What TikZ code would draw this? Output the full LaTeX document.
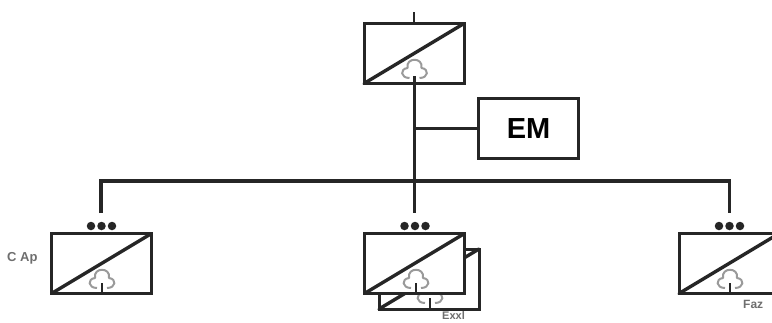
\documentclass[tikz,border=0pt]{standalone}
\usepackage{fontspec}
\setmainfont{Liberation Sans}
\definecolor{ink}{HTML}{262626}
\definecolor{cloudc}{HTML}{9A9A9A}
\definecolor{labelc}{HTML}{6E6E6E}
\tikzset{
  x=1pt,y=-1pt,
  conv/.style={draw=ink,line width=3pt,fill=white,rectangle,minimum width=100pt,minimum height=60pt,inner sep=0pt,outer sep=0pt},
  emb/.style={draw=ink,line width=2.6pt,fill=white,rectangle,minimum width=100pt,minimum height=60pt,inner sep=0pt,font=\fontsize{29}{29}\selectfont\bfseries},
  diag/.style={draw=ink,line width=3.4pt,line cap=round},
  bus/.style={draw=ink,line width=3.8pt},
  stem/.style={draw=ink,line width=3.8pt},
  thinl/.style={draw=ink,line width=3pt},
  dot3/.style={circle,fill=ink,minimum size=8.5pt,inner sep=0pt},
  cl/.style={draw=cloudc,line width=2pt,fill=white,line join=round},
  lab/.style={text=labelc,inner sep=0pt,font=\fontsize{#1}{#1}\selectfont\bfseries},
}
\newcommand{\cloudshape}[1]{%
  \path[cl] ([shift={(-5,10)}]#1) .. controls ([shift={(-14,10)}]#1) and ([shift={(-15,1)}]#1) .. ([shift={(-7,0)}]#1)
    .. controls ([shift={(-9,-11)}]#1) and ([shift={(9,-11)}]#1) .. ([shift={(7,0)}]#1)
    .. controls ([shift={(15,1)}]#1) and ([shift={(14,10)}]#1) .. ([shift={(5,10)}]#1);
}
\begin{document}
\begin{tikzpicture}
\useasboundingbox (0,0) rectangle (772,322);
\clip (0,0) rectangle (772,322);
% top converter
\node[conv] (top) at (414,53.5) {};
\draw[diag] (top.south west) -- (top.north east);
\coordinate (topcl) at (414.5,68);
\cloudshape{topcl}
\coordinate (topin) at (414,12);
\draw[thinl,line width=2.2pt] (topin) -- (top.north);
% EM
\node[emb] (em) at (528.5,128.5) {EM};
% bus
\coordinate (busl) at (101,181);
\coordinate (busm) at (414.5,181);
\coordinate (busr) at (729.5,181);
\coordinate (tapm) at (414.5,76);
\coordinate (tapem) at (414.5,128.5);
\coordinate (sl) at (101,213);
\coordinate (sm) at (414.5,213);
\coordinate (sr) at (729.5,213);
% left converter
\node[conv] (a) at (101.5,263.5) {};
\draw[diag] (a.south west) -- (a.north east);
\coordinate (acl) at (102,278);
\cloudshape{acl}
\coordinate (ast) at (102,283);
\draw[stem,line width=2.8pt] (ast) -- (a.south -| ast);
\node[dot3] (a1) at (91,226) {};
\node[dot3] (a2) at (101.5,226) {};
\node[dot3] (a3) at (112,226) {};
% back middle converter
\node[conv] (b) at (429,279) {};
\draw[diag] (b.south west) -- (b.north east);
\coordinate (bcl) at (430,293);
\cloudshape{bcl}
\coordinate (bst) at (430,298);
\draw[stem,line width=2.8pt] (bst) -- (b.south -| bst);
% middle converter
\node[conv] (m) at (414.5,263.5) {};
\draw[diag] (m.south west) -- (m.north east);
\coordinate (mcl) at (416,278);
\cloudshape{mcl}
\coordinate (mst) at (416,283);
\draw[stem,line width=2.8pt] (mst) -- (m.south -| mst);
\node[dot3] (m1) at (404.5,226) {};
\node[dot3] (m2) at (415,226) {};
\node[dot3] (m3) at (425.5,226) {};
% right converter
\node[conv] (c) at (729,263.5) {};
\draw[diag] (c.south west) -- (c.north east);
\coordinate (ccl) at (730,278);
\cloudshape{ccl}
\coordinate (cst) at (730,283);
\draw[stem,line width=2.8pt] (cst) -- (c.south -| cst);
\node[dot3] (c1) at (719,226) {};
\node[dot3] (c2) at (729.5,226) {};
\node[dot3] (c3) at (740,226) {};
% connectors
\draw[stem] (tapm) -- (sm);
\draw[thinl] (tapem) -- (em.west);
\draw[bus,line join=miter] (sl) -- (busl) -- (busr) -- (sr);
% labels
\node[lab=13,anchor=west] (lca) at (7,258) {C Ap};
\node[lab=11,anchor=west] (lex) at (442,316) {Exxl};
\node[lab=12,anchor=west] (lfa) at (743,304) {Faz};
\end{tikzpicture}
\end{document}
